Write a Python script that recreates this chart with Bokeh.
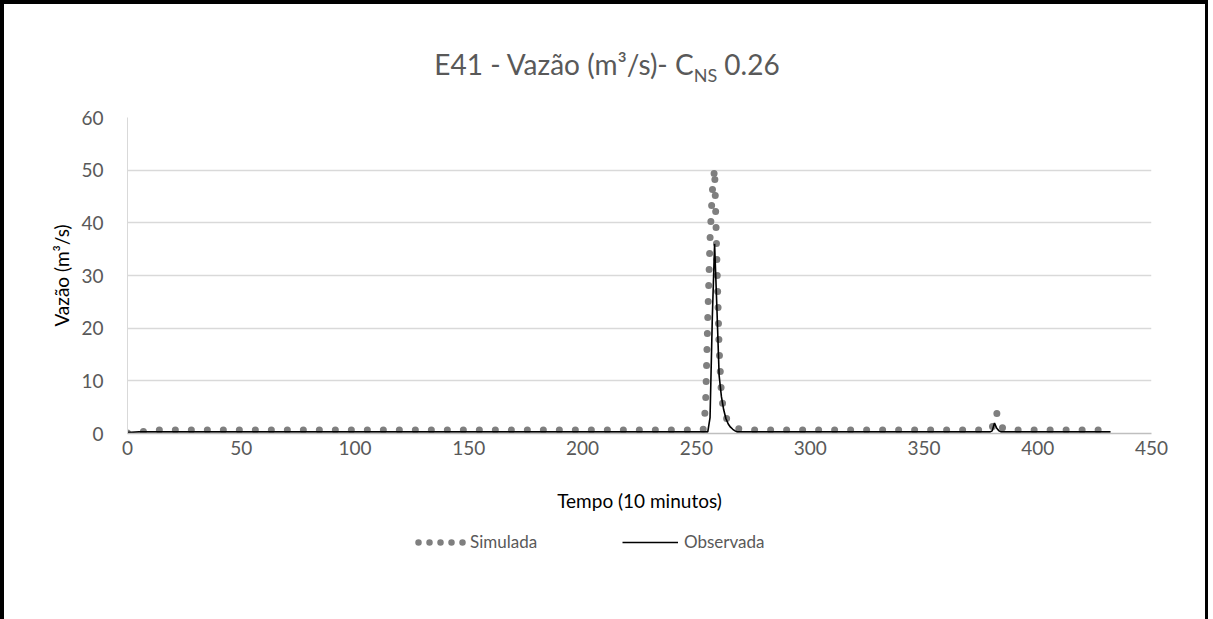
from bokeh.plotting import figure
from bokeh.layouts import column
from bokeh.models import Range1d, Legend, LegendItem, FixedTicker, ColumnDataSource, InlineStyleSheet, Div
from bokeh.embed import file_html
from bokeh.resources import INLINE

# ---- data ----
sim_t = [0, 5, 12, 252, 253, 254, 255, 256, 257, 258, 259, 260, 261, 262, 263, 264, 265, 266, 267, 268, 270, 275,
         379, 380, 381, 382, 383, 384, 386, 390, 432]
sim_q = [0.1, 0.3, 0.65, 0.65, 0.8, 5.0, 22.0, 37.0, 46.0, 50.3, 33.0, 16.0, 7.5, 4.0, 3.0, 2.4, 2.0, 1.7, 1.3, 1.0, 0.75, 0.65,
         0.65, 1.0, 3.8, 3.9, 1.8, 1.2, 0.8, 0.65, 0.65]

obs_t = [0, 5, 255, 256, 257, 258, 259, 260, 261, 262, 263, 264, 265, 266, 267, 268,
         379, 380, 381, 382, 383, 384, 432]
obs_q = [0.2, 0.3, 0.3, 3.0, 22.0, 36.0, 24.0, 11.0, 7.0, 4.5, 2.8, 1.8, 1.2, 0.8, 0.5, 0.3,
         0.3, 0.5, 2.0, 1.0, 0.5, 0.3, 0.3]

x_ticks = [0, 50, 100, 150, 200, 250, 300, 350, 400, 450]
y_ticks = [0, 10, 20, 30, 40, 50, 60]

title_main = "E41 - Vazão (m³/s)- C"
title_sub = "NS"
title_end = "0.26"
x_title = "Tempo (10 minutos)"
y_title = "Vazão (m³/s)"
sim_name = "Simulada"
obs_name = "Observada"

FONT = "Lato"
GRAY_TXT = "#595959"
SIM_COLOR = "#7f7f7f"
W = 1208
TITLE_H = 100
MAIN_H = 425
LEG_H = 619 - TITLE_H - MAIN_H
FRAME_LEFT = 127

title_html = (
    f'<div style="width:{W}px; box-sizing:border-box; padding-top:51px; padding-left:6px; text-align:center; '
    f'font-family:{FONT}; font-size:28px; line-height:27px; color:{GRAY_TXT}; white-space:nowrap;">'
    f'{title_main}<span style="font-size:18px; position:relative; top:7px;">{title_sub}</span> {title_end}</div>'
)
title_div = Div(text=title_html, width=W, height=TITLE_H, margin=0)

p = figure(width=W, height=MAIN_H, output_backend="svg", toolbar_location=None,
           x_range=Range1d(0, 450), y_range=Range1d(0, 60),
           min_border_left=FRAME_LEFT, min_border_right=57, min_border_top=117 - TITLE_H, min_border_bottom=92,
           margin=0)
p.title = None
p.outline_line_color = None
p.background_fill_color = "white"
p.border_fill_color = None

p.xgrid.visible = False
p.ygrid.grid_line_color = "#d9d9d9"
p.ygrid.grid_line_width = 1.3

p.xaxis.ticker = FixedTicker(ticks=x_ticks)
p.yaxis.ticker = FixedTicker(ticks=y_ticks)
for ax in (p.xaxis, p.yaxis):
    ax.major_tick_line_color = None
    ax.minor_tick_line_color = None
    ax.major_label_text_font = FONT
    ax.major_label_text_font_size = "19px"
    ax.major_label_text_color = GRAY_TXT
    ax.axis_label_text_font = FONT
    ax.axis_label_text_font_size = "19px"
    ax.axis_label_text_font_style = "normal"
    ax.axis_label_text_color = "#000000"
p.xaxis.axis_line_color = "#bfbfbf"
p.xaxis.axis_line_width = 1.5
p.yaxis.axis_line_color = "#d9d9d9"
p.yaxis.axis_line_width = 1
p.xaxis.major_label_standoff = 1
p.yaxis.major_label_standoff = 18
p.xaxis.axis_label = x_title
p.yaxis.axis_label = y_title
p.xaxis.axis_label_standoff = 31
p.yaxis.axis_label_standoff = 5

sim_src = ColumnDataSource(data=dict(t=sim_t, q=sim_q))
obs_src = ColumnDataSource(data=dict(t=obs_t, q=obs_q))

p.line("t", "q", source=sim_src, line_color=SIM_COLOR, line_width=7, line_dash="0 16", line_cap="round")
p.line("t", "q", source=obs_src, line_color="black", line_width=1.6)

# ---- legend strip (own figure so the legend is not clipped by the plot frame) ----
# its ranges lie outside the data, so only the legend swatches show
lg = figure(width=W, height=LEG_H, output_backend="svg", toolbar_location=None,
            x_range=Range1d(-20, -10), y_range=Range1d(-20, -10), x_axis_location=None, y_axis_location=None,
            min_border=0, min_border_left=0, min_border_right=0, min_border_top=0, min_border_bottom=0,
            margin=0)
lg.title = None
lg.outline_line_color = None
lg.background_fill_color = None
lg.border_fill_color = None
lg.grid.visible = False
# Excel compresses the dot spacing in the legend swatch
sw_sim = lg.line("t", "q", source=sim_src, line_color=SIM_COLOR, line_width=6.5, line_dash="0 11",
                 line_dash_offset=7, line_cap="round")
sw_obs = lg.line("t", "q", source=obs_src, line_color="black", line_width=1.6)

common = dict(orientation="horizontal", glyph_height=20, padding=0, margin=0,
              border_line_alpha=0, background_fill_alpha=0,
              label_text_font=FONT, label_text_font_size="17px", label_text_color=GRAY_TXT)
leg_bottom = 619 - 552
lg.add_layout(Legend(items=[LegendItem(label=sim_name, renderers=[sw_sim])],
                     location=(414 - FRAME_LEFT, leg_bottom), glyph_width=52, label_standoff=4, **common),
              "center")
lg.add_layout(Legend(items=[LegendItem(label=obs_name, renderers=[sw_obs])],
                     location=(622 - FRAME_LEFT, leg_bottom), glyph_width=56, label_standoff=6, **common),
              "center")

layout = column(title_div, p, lg, spacing=0, margin=0)
layout.stylesheets = [InlineStyleSheet(
    css=":host { background: white; box-shadow: inset 4px 4px 0 0 #000, inset -3px 0 0 0 #000; }")]

open("out.html", "w").write(file_html(layout, INLINE))
